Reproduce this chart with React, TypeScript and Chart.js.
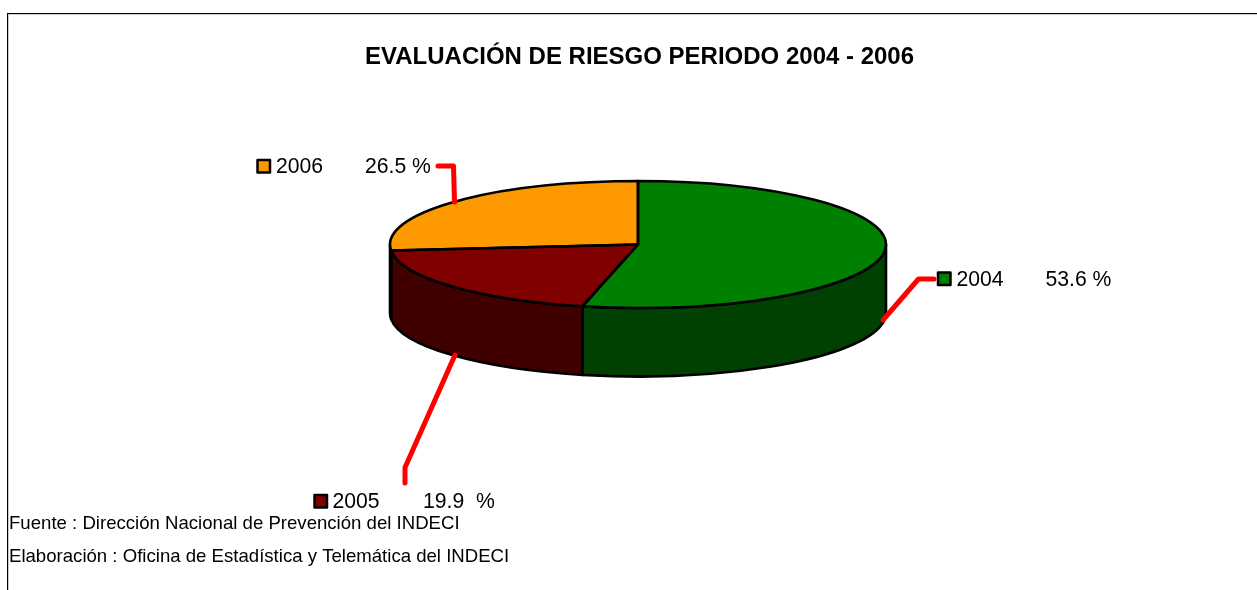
import React, { useEffect, useRef } from "react";
import { Chart, registerables } from "chart.js";

Chart.register(...registerables);

const categories = ["2004", "2005", "2006"];
const values = [53.6, 19.9, 26.5];
const percentLabels = ["53.6 %", "19.9  %", "26.5 %"];
const topColors = ["#008000", "#800000", "#FF9900"];
const wallColors = ["#004000", "#400000", "#804C00"];
const titleText = "EVALUACIÓN DE RIESGO PERIODO 2004 - 2006";
const sourceLines = [
  "Fuente : Dirección Nacional de Prevención del INDECI",
  "Elaboración : Oficina de Estadística y Telemática del INDECI",
];

const FONT = '"Liberation Sans", Arial, sans-serif';
const SQUASH = 63.5 / 248;
const DEPTH = 68.5;
// label layout per category: swatch x/y, text x, percent x, baseline, leader polyline
const labelLayout = [
  { sx: 938, sy: 272.5, tx: 956.5, px: 1045.5, by: 286, leader: [[883, 320], [918.5, 279], [934, 279]] },
  { sx: 314.5, sy: 495, tx: 332.5, px: 423, by: 508, leader: [[455, 355], [405, 467.5], [405, 483]] },
  { sx: 257.5, sy: 160, tx: 276, px: 365, by: 173, leader: [[454.5, 202], [453.5, 166], [438, 166]] },
];

const pie3d = {
  id: "pie3d",
  beforeDatasetsDraw(chart: any) {
    const { ctx } = chart;
    const arcs = chart.getDatasetMeta(0).data;
    const { x, y, outerRadius: r } = arcs[0].getProps(["x", "y", "outerRadius"], true);
    const ry = r * SQUASH;
    arcs.forEach((arc: any, i: number) => {
      const a = Math.max(arc.startAngle, 0);
      const b = Math.min(arc.endAngle, Math.PI);
      if (b <= a) return;
      ctx.save();
      ctx.beginPath();
      ctx.ellipse(x, y, r, ry, 0, a, b, false);
      ctx.lineTo(x + r * Math.cos(b), y + ry * Math.sin(b) + DEPTH);
      ctx.ellipse(x, y + DEPTH, r, ry, 0, b, a, true);
      ctx.closePath();
      ctx.fillStyle = wallColors[i];
      ctx.fill();
      ctx.strokeStyle = "#000";
      ctx.lineWidth = 2.6;
      ctx.lineJoin = "round";
      ctx.stroke();
      ctx.restore();
    });
    ctx.save();
    ctx.translate(x, y);
    ctx.scale(1, SQUASH);
    ctx.translate(-x, -y);
  },
  afterDatasetsDraw(chart: any) {
    const { ctx } = chart;
    ctx.restore();
    const arcs = chart.getDatasetMeta(0).data;
    arcs.forEach((arc: any) => {
      const { x, y, outerRadius: r, startAngle, endAngle } = arc;
      const ry = r * SQUASH;
      ctx.save();
      ctx.beginPath();
      ctx.moveTo(x, y);
      ctx.ellipse(x, y, r, ry, 0, startAngle, endAngle, false);
      ctx.closePath();
      ctx.strokeStyle = "#000";
      ctx.lineWidth = 2.6;
      ctx.lineJoin = "round";
      ctx.stroke();
      ctx.restore();
    });
  },
  afterDraw(chart: any) {
    const { ctx, width, height } = chart;
    ctx.save();
    // frame
    ctx.fillStyle = "#cccccc";
    ctx.fillRect(8, 14, width - 8, 1);
    ctx.fillRect(8, 14, 1, height - 14);
    ctx.fillStyle = "#000";
    ctx.fillRect(7, 13, width - 7, 1);
    ctx.fillRect(7, 13, 1, height - 13);
    // title
    ctx.fillStyle = "#000";
    ctx.textBaseline = "alphabetic";
    ctx.textAlign = "left";
    ctx.font = `bold 24px ${FONT}`;
    ctx.fillText(titleText, 365, 64);
    // leaders and labels
    categories.forEach((c, i) => {
      const l = labelLayout[i];
      ctx.strokeStyle = "#FF0000";
      ctx.lineWidth = 5;
      ctx.lineCap = "round";
      ctx.lineJoin = "round";
      ctx.beginPath();
      l.leader.forEach(([px, py], k) => (k ? ctx.lineTo(px, py) : ctx.moveTo(px, py)));
      ctx.stroke();
      ctx.fillStyle = topColors[i];
      ctx.fillRect(l.sx, l.sy, 12.5, 12.5);
      ctx.strokeStyle = "#000";
      ctx.lineWidth = 2.5;
      ctx.lineCap = "butt";
      ctx.strokeRect(l.sx, l.sy, 12.5, 12.5);
      ctx.fillStyle = "#000";
      ctx.font = `21.2px ${FONT}`;
      ctx.fillText(c, l.tx, l.by);
      ctx.fillText(percentLabels[i], l.px, l.by);
    });
    ctx.font = `18.6px ${FONT}`;
    ctx.fillText(sourceLines[0], 9, 529);
    ctx.fillText(sourceLines[1], 9, 562);
    ctx.restore();
  },
};

export default function App() {
  const ref = useRef<HTMLCanvasElement>(null);
  useEffect(() => {
    const chart = new Chart(ref.current!, {
      type: "pie",
      data: {
        labels: categories,
        datasets: [{ data: values, backgroundColor: topColors, borderWidth: 0 }],
      },
      options: {
        animation: false,
        responsive: false,
        radius: 248,
        rotation: 0,
        layout: { padding: { left: 19, right: 0, top: 0, bottom: 101 } },
        plugins: { legend: { display: false }, title: { display: false }, tooltip: { enabled: false } },
      },
      plugins: [pie3d],
    } as any);
    return () => chart.destroy();
  }, []);
  return (
    <canvas
      ref={ref}
      width={1257}
      height={590}
      style={{ position: "fixed", left: 0, top: 0, width: 1257, height: 590, background: "#fff" }}
    />
  );
}
